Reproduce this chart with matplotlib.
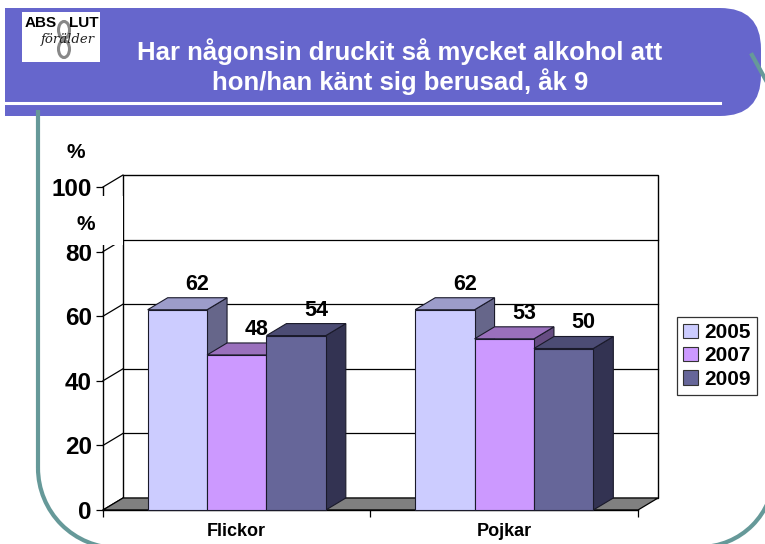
import numpy as np
import matplotlib
matplotlib.use("Agg")
import matplotlib.pyplot as plt
from matplotlib.patches import Rectangle, Polygon, Arc, FancyBboxPatch, Ellipse, Patch

# data
categories = ["Flickor", "Pojkar"]
years = ["2005", "2007", "2009"]
values = {
    "2005": [62, 62],
    "2007": [48, 53],
    "2009": [54, 50],
}
yticks = [0, 20, 40, 60, 80, 100]
title = "Har någonsin druckit så mycket alkohol att\nhon/han känt sig berusad, åk 9"

# colours: front, top, side
col_front = {"2005": "#CCCCFF", "2007": "#CC99FF", "2009": "#666699"}
col_top = {"2005": "#9C9CCA", "2007": "#9A70BC", "2009": "#4C4C74"}
col_side = {"2005": "#66668A", "2007": "#664C82", "2009": "#333352"}
header_col = "#6666CC"
teal = "#669999"

plt.rcParams['font.family'] = ['Liberation Sans', 'DejaVu Sans']

W, H = 765, 544
fig = plt.figure(figsize=(W / 100, H / 100), dpi=100)

# background layer in pixel coords (slide decoration)
bg = fig.add_axes([0, 0, 1, 1], zorder=0)
bg.set_xlim(0, W)
bg.set_ylim(H, 0)
bg.axis("off")

# teal border of the slide
bg.plot([38, 38], [110, 468], color=teal, lw=3, solid_capstyle="butt")
bg.add_patch(Arc((118, 468), 160, 160, theta1=90, theta2=180, color=teal, lw=3))
bg.add_patch(Arc((700, 473), 148, 148, theta1=0, theta2=90, color=teal, lw=3))
bg.plot([752, 768], [55, 84], color=teal, lw=3)

# header band (square left end, rounded right end)
bg.add_patch(Rectangle((5, 8), 700, 108, color=header_col, lw=0))
bg.add_patch(FancyBboxPatch((640, 49), 80, 26, boxstyle="round,pad=41",
                            color=header_col, lw=0))
bg.plot([5, 720], [103, 103], color="white", lw=2.2)
bg.text(400, 67, title, color="white", fontsize=18.5, fontweight="bold",
        ha="center", va="center", linespacing=1.15)

# logo
bg.add_patch(Rectangle((22, 12), 78, 50, color="white", lw=0))
bg.add_patch(Ellipse((64, 30), 11, 17, fill=False, ec="#888888", lw=2.2))
bg.add_patch(Ellipse((64, 49), 11, 17, fill=False, ec="#888888", lw=2.2))
bg.text(41, 23, "ABS", fontsize=11, fontweight="bold", ha="center", va="center",
        color="black")
bg.text(84, 23, "LUT", fontsize=11, fontweight="bold", ha="center", va="center",
        color="black")
bg.text(68, 39, "förälder", fontsize=9.5, fontstyle="italic", family="DejaVu Serif",
        ha="center", va="center", color="#222222")

# chart axes: front plane of the 3D chart
ax = fig.add_axes([103 / W, 34 / H, 535 / W, 323 / H], zorder=1)
ax.patch.set_alpha(0)
ax.set_xlim(-0.5, 1.5)
ax.set_ylim(0, 100)
for s in ["top", "right"]:
    ax.spines[s].set_visible(False)
ax.spines["left"].set_linewidth(1)
ax.spines["bottom"].set_linewidth(1)

dx = 20 / 267.5          # depth offset in x data units
dy = 12 / 3.23           # depth offset in y data units
x0, x1 = -0.5, 1.5

# back wall + gridlines
ax.add_patch(Rectangle((x0 + dx, dy), x1 - x0, 100, fc="white", ec="black", lw=1,
                       clip_on=False, zorder=1))
for v in yticks[1:-1]:
    ax.plot([x0 + dx, x1 + dx], [v + dy, v + dy], color="black", lw=0.9,
            clip_on=False, zorder=1.5)
for v in yticks:
    ax.plot([x0, x0 + dx], [v, v + dy], color="black", lw=0.9, clip_on=False, zorder=1.5)

# floor
ax.add_patch(Polygon([(x0, 0), (x1, 0), (x1 + dx, dy), (x0 + dx, dy)], closed=True,
                     fc="#808080", ec="black", lw=0.9, clip_on=False, zorder=2))

# 3D bars
w = 0.222
edge = "#1a1a2a"
for ci, cat in enumerate(categories):
    for si, yr in enumerate(years):
        h = values[yr][ci]
        xl = ci + (si - 1.5) * w
        side = Polygon([(xl + w, 0), (xl + w + dx, dy), (xl + w + dx, h + dy), (xl + w, h)],
                       closed=True, fc=col_side[yr], ec=edge, lw=0.8, clip_on=False,
                       zorder=3 + si)
        top = Polygon([(xl, h), (xl + w, h), (xl + w + dx, h + dy), (xl + dx, h + dy)],
                      closed=True, fc=col_top[yr], ec=edge, lw=0.8, clip_on=False,
                      zorder=3 + si)
        ax.add_patch(side)
        ax.add_patch(top)
        ax.add_patch(Rectangle((xl, 0), w, h, fc=col_front[yr], ec=edge, lw=0.8,
                               clip_on=False, zorder=3 + si))
        ax.text(xl + w / 2 + dx, h + dy + 4.2, str(h), fontsize=15.5, fontweight="bold",
                ha="center", va="center", zorder=10)

# axes ticks
ax.set_yticks(yticks)
ax.set_yticklabels([str(v) for v in yticks], fontsize=17.5, fontweight="bold")
ax.tick_params(axis="y", length=5, width=0.9, pad=3)
ax.set_xticks([-0.5, 0.5, 1.5])
ax.set_xticklabels([])
ax.tick_params(axis="x", length=5, width=0.9)
ax.set_xticks([0, 1], minor=True)
ax.set_xticklabels(categories, minor=True, fontsize=13, fontweight="bold")
ax.tick_params(axis="x", which="minor", length=0, pad=9)

legend_handles = [Patch(fc=col_front[yr], ec="#333333", lw=0.8, label=yr) for yr in years]
leg = fig.legend(handles=legend_handles, loc="upper left",
                 bbox_to_anchor=(677 / W, 1 - 317 / H),
                 prop={"weight": "bold", "size": 15}, frameon=True, fancybox=False,
                 handlelength=0.7, handleheight=0.7, handletextpad=0.3,
                 labelspacing=0.2, borderpad=0.3, borderaxespad=0)
leg.get_frame().set_edgecolor("black")
leg.get_frame().set_linewidth(0.9)

# foreground layer: "%" labels with white box hiding part of the axis
fg = fig.add_axes([0, 0, 1, 1], zorder=2)
fg.patch.set_alpha(0)
fg.set_xlim(0, W)
fg.set_ylim(H, 0)
fg.axis("off")
fg.add_patch(Rectangle((55, 196), 68, 49, color="white", lw=0))
fg.text(76, 152, "%", fontsize=15, fontweight="bold", ha="center", va="center")
fg.text(86, 224, "%", fontsize=15, fontweight="bold", ha="center", va="center")

fig.savefig("out.png", dpi=100)
